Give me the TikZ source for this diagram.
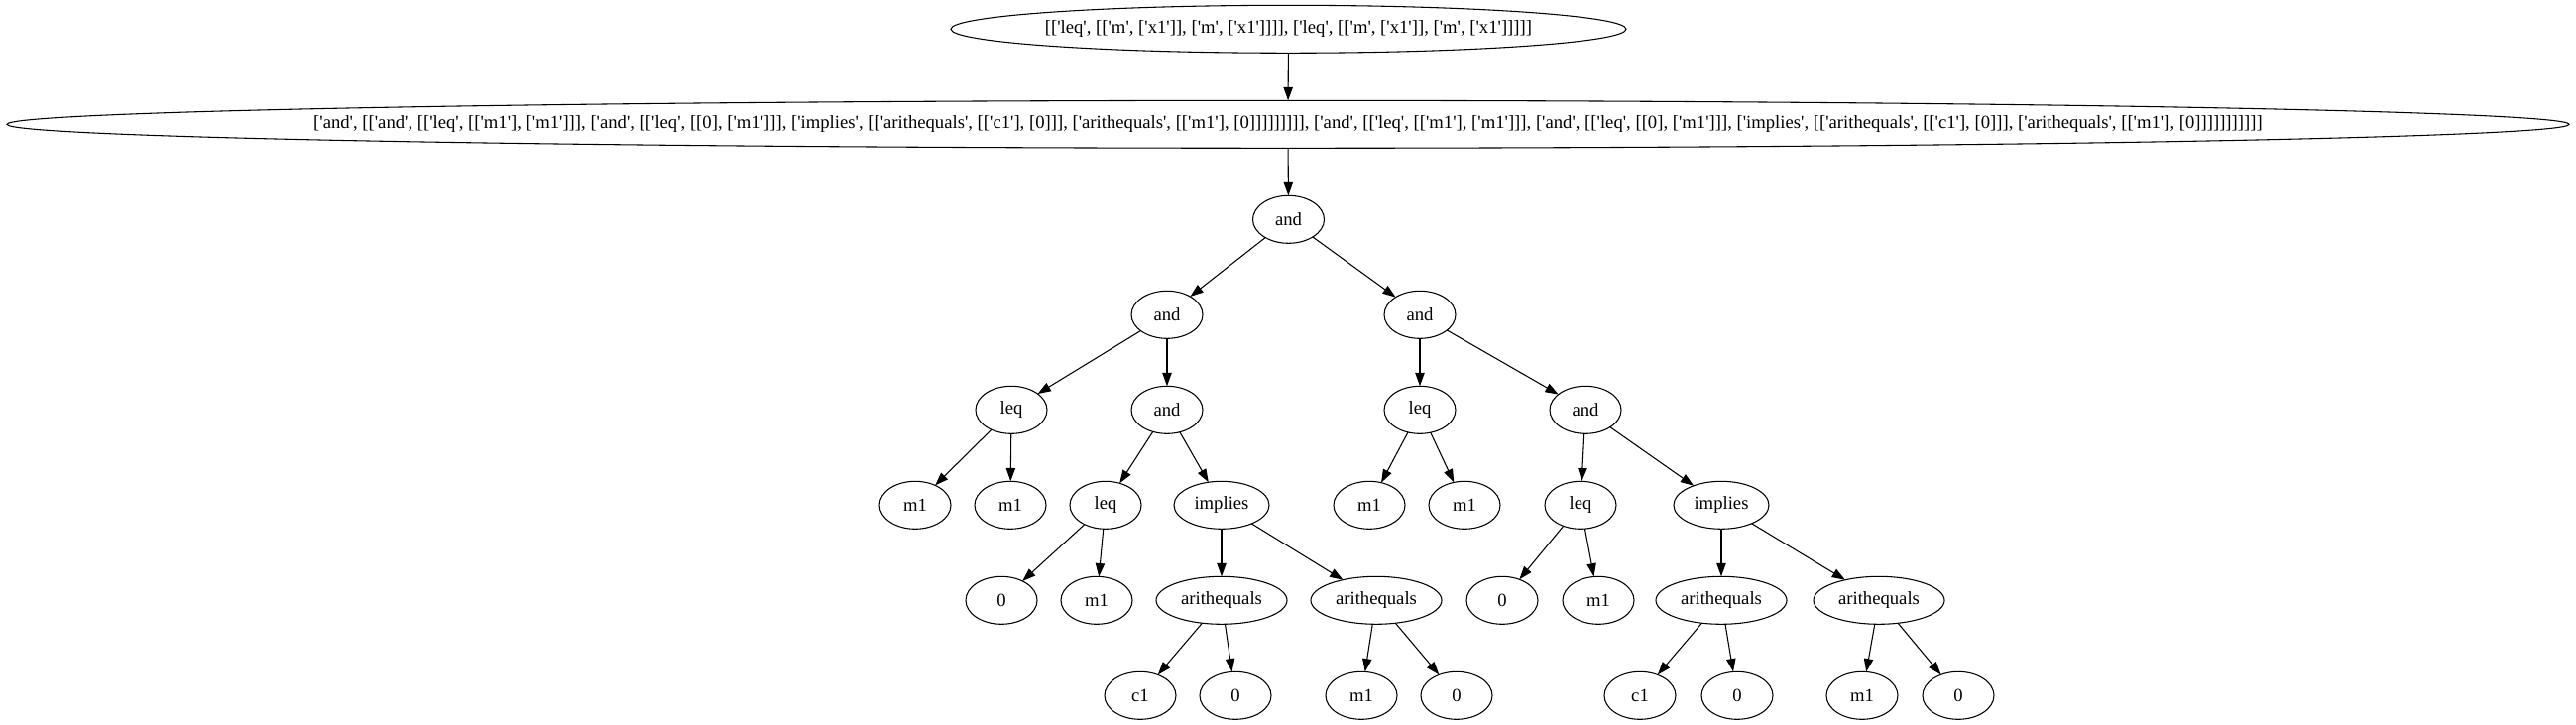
\documentclass[tikz,border=0pt]{standalone}
\usepackage{fontspec}
\setmainfont{Liberation Serif}[Ligatures=TeXOff]
\usetikzlibrary{arrows.meta,shapes.geometric}
\tikzset{
  >={Triangle[length=10pt,width=7pt]},
  tnode/.style={ellipse,draw=black,line width=.8pt,fill=white,inner sep=0pt,outer sep=0pt,
    font=\fontsize{14pt}{16pt}\selectfont,minimum width=54pt,minimum height=36pt},
  wide/.style={tnode,minimum width=#1},
  exprnode/.style={tnode,inner xsep=-120pt,minimum width=#1},
  treeedge/.style={->,line width=.8pt,draw=black}
}
\begin{document}
\begin{tikzpicture}[x=.75pt,y=-.75pt]
  \useasboundingbox (0,0) rectangle (2598,731);
  % the two expression nodes
  \node[exprnode=510.75pt] (top) at (1299.5,29.3) {[['leq', [['m', ['x1']], ['m', ['x1']]]], ['leq', [['m', ['x1']], ['m', ['x1']]]]]};
  \node[exprnode=1938pt] (expr) at (1299,125.3) {['and', [['and', [['leq', [['m1'], ['m1']]], ['and', [['leq', [[0], ['m1']]], ['implies', [['arithequals', [['c1'], [0]]], ['arithequals', [['m1'], [0]]]]]]]]], ['and', [['leq', [['m1'], ['m1']]], ['and', [['leq', [[0], ['m1']]], ['implies', [['arithequals', [['c1'], [0]]], ['arithequals', [['m1'], [0]]]]]]]]]]]};
  % tree
  \node[tnode] (a0) at (1299.5,221.3) {and};
  \node[tnode] (a1) at (1177,317.3) {and};
  \node[tnode] (a2) at (1432,317.3) {and};
  \node[tnode] (l1) at (1020,413.3) {leq};
  \node[tnode] (a3) at (1177,413.3) {and};
  \node[tnode] (l2) at (1432,413.3) {leq};
  \node[tnode] (a4) at (1599,413.3) {and};
  \node[tnode] (m1a) at (923,509.3) {m1};
  \node[tnode] (m1b) at (1019,509.3) {m1};
  \node[tnode] (l3) at (1115,509.3) {leq};
  \node[wide=72pt] (i1) at (1232,509.3) {implies};
  \node[tnode] (m1c) at (1381,509.3) {m1};
  \node[tnode] (m1d) at (1477,509.3) {m1};
  \node[tnode] (l4) at (1594,509.3) {leq};
  \node[wide=72pt] (i2) at (1736,509.3) {implies};
  \node[tnode] (z1) at (1010,605.3) {0};
  \node[tnode] (m1e) at (1106,605.3) {m1};
  \node[wide=99pt] (q1) at (1232,605.3) {arithequals};
  \node[wide=99pt] (q2) at (1388,605.3) {arithequals};
  \node[tnode] (z2) at (1515,605.3) {0};
  \node[tnode] (m1f) at (1612,605.3) {m1};
  \node[wide=99pt] (q3) at (1736,605.3) {arithequals};
  \node[wide=99pt] (q4) at (1895,605.3) {arithequals};
  \node[tnode] (c1a) at (1150,701.3) {c1};
  \node[tnode] (z3) at (1246,701.3) {0};
  \node[tnode] (m1g) at (1373,701.3) {m1};
  \node[tnode] (z4) at (1469,701.3) {0};
  \node[tnode] (c1b) at (1654,701.3) {c1};
  \node[tnode] (z5) at (1752,701.3) {0};
  \node[tnode] (m1h) at (1878,701.3) {m1};
  \node[tnode] (z6) at (1975,701.3) {0};
  % edges
  \draw[treeedge] (top)--(expr);
  \draw[treeedge] (expr)--(a0);
  \draw[treeedge] (a0)--(a1);
  \draw[treeedge] (a0)--(a2);
  \draw[treeedge] (a1)--(l1);
  \draw[treeedge] (a1)--(a3);
  \draw[treeedge] (a2)--(l2);
  \draw[treeedge] (a2)--(a4);
  \draw[treeedge] (l1)--(m1a);
  \draw[treeedge] (l1)--(m1b);
  \draw[treeedge] (a3)--(l3);
  \draw[treeedge] (a3)--(i1);
  \draw[treeedge] (l2)--(m1c);
  \draw[treeedge] (l2)--(m1d);
  \draw[treeedge] (a4)--(l4);
  \draw[treeedge] (a4)--(i2);
  \draw[treeedge] (l3)--(z1);
  \draw[treeedge] (l3)--(m1e);
  \draw[treeedge] (i1)--(q1);
  \draw[treeedge] (i1)--(q2);
  \draw[treeedge] (l4)--(z2);
  \draw[treeedge] (l4)--(m1f);
  \draw[treeedge] (i2)--(q3);
  \draw[treeedge] (i2)--(q4);
  \draw[treeedge] (q1)--(c1a);
  \draw[treeedge] (q1)--(z3);
  \draw[treeedge] (q2)--(m1g);
  \draw[treeedge] (q2)--(z4);
  \draw[treeedge] (q3)--(c1b);
  \draw[treeedge] (q3)--(z5);
  \draw[treeedge] (q4)--(m1h);
  \draw[treeedge] (q4)--(z6);
\end{tikzpicture}
\end{document}
